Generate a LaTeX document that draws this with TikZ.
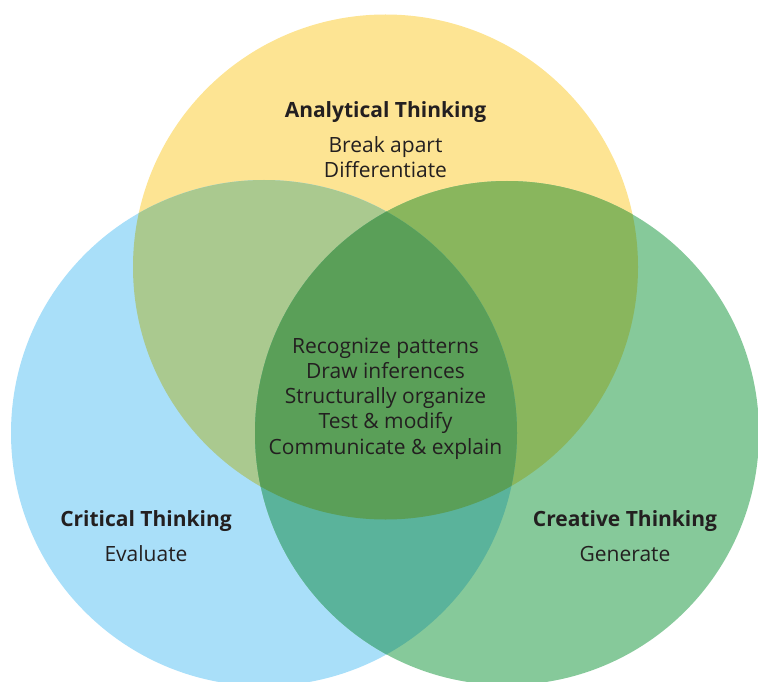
\documentclass[tikz,border=0pt]{standalone}
\usepackage{fontspec}
\setmainfont{Open Sans}
\definecolor{yellowc}{HTML}{FDE493}
\definecolor{bluec}{HTML}{A9DFF9}
\definecolor{greenc}{HTML}{86C99A}
\definecolor{ybc}{HTML}{AAC98F}
\definecolor{ygc}{HTML}{89B65D}
\definecolor{bgc}{HTML}{5AB39B}
\definecolor{allc}{HTML}{5A9F58}
\definecolor{txtc}{HTML}{231F20}
\tikzstyle{head}=[anchor=base, inner sep=0pt, text=txtc,%
font=\fontsize{21}{25}\selectfont\bfseries]
\tikzstyle{body}=[anchor=base, inner sep=0pt, text=txtc,%
font=\fontsize{21}{25}\selectfont]

\begin{document}
\begin{tikzpicture}[x=1pt,y=-1pt]
\useasboundingbox (0,0) rectangle (758,682);
\clip (0,0) rectangle (758,682);
\coordinate (ana) at (385.5,267);
\coordinate (cri) at (264,433);
\coordinate (cre) at (507,433);

\fill[yellowc] (ana) circle (252.5pt);
\fill[bluec] (cri) circle (253pt);
\fill[greenc] (cre) circle (252pt);
\begin{scope}
\clip (ana) circle (252.5pt);
\fill[ybc] (cri) circle (253pt);
\fill[ygc] (cre) circle (252pt);
\end{scope}
\begin{scope}
\clip (cri) circle (253pt);
\fill[bgc] (cre) circle (252pt);
\clip (cre) circle (252pt);
\fill[allc] (ana) circle (252.5pt);
\end{scope}

\node[head] (anahead) at (385.5,118) {Analytical Thinking};
\node[body] (ana1) at (385.5,153) {Break apart};
\node[body] (ana2) at (385.5,178) {Differentiate};

\node[head] (crihead) at (146,526) {Critical Thinking};
\node[body] (cri1) at (146,561) {Evaluate};

\node[head] (crehead) at (625,526) {Creative Thinking};
\node[body] (cre1) at (625,561) {Generate};

\foreach \txt [count=\i] in {Recognize patterns, Draw inferences,
  Structurally organize, Test \& modify, Communicate \& explain}
  \node[body] (mid\i) at (385.5,{353+25.3*(\i-1)}) {\txt};
\end{tikzpicture}
\end{document}
